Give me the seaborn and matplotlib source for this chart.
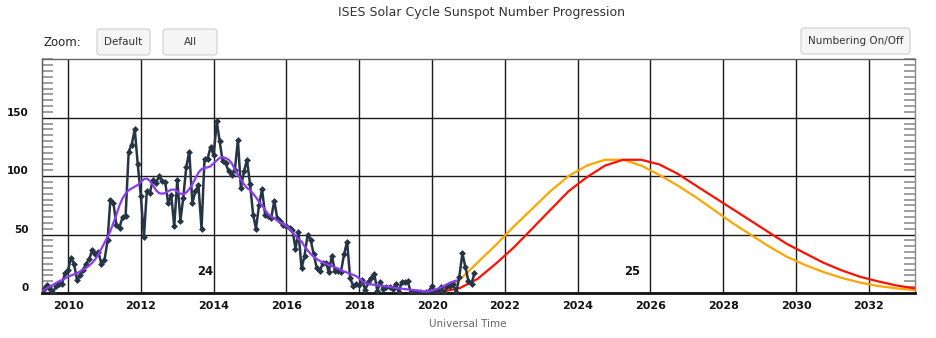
import numpy as np
import pandas as pd
import matplotlib
matplotlib.use("Agg")
import matplotlib.pyplot as plt
import matplotlib.dates as mdates
from matplotlib.patches import FancyBboxPatch
from matplotlib.transforms import IdentityTransform
from matplotlib.ticker import MultipleLocator
import seaborn as sns

# ---------------- data ----------------
monthly_start = "2009-05-01"
monthly_ssn = [
    3.6, 7, 3, 0, 6, 8, 8, 17,
    20, 30, 25, 11, 15, 20, 25, 29, 37, 33, 35, 25,
    28, 45, 80, 77, 58, 56, 65, 66, 121, 127, 140, 110,
    83, 48, 87, 86, 97, 94, 100, 96, 95, 77, 84, 57,
    97, 62, 81, 108, 121, 77, 87, 92, 55, 115, 115, 125,
    118, 147, 130, 113, 111, 104, 101, 105, 131, 90, 104, 114,
    93, 67, 55, 75, 89, 67, 66, 64, 79, 64, 62, 58,
    57, 56, 54, 38, 52, 21, 32, 50, 45, 33, 21, 18.5,
    26, 26, 18, 32, 19, 19, 18, 33, 44, 13, 6, 8,
    7, 11, 2.5, 9, 13, 16, 2, 9, 3, 5, 5, 3,
    8, 1, 9, 9, 10, 1, 1, 0.5, 1, 0.4, 0.5, 1.5,
    6, 0.2, 1.5, 5, 0.2, 6, 6, 7.5, 0.6, 14, 34, 22,
    10, 8, 17,
]
smoothed_start = "2009-05-01"
smoothed_ssn = [
    2.5, 4, 5.5, 7, 8.5, 10, 11, 12.5,
    14, 15, 16, 17, 18.5, 20, 21.5, 23.5, 26, 29, 33, 38,
    43, 48, 53, 60, 67, 75, 81, 85, 88, 89.5, 91, 92.5,
    95, 97.5, 98, 96, 92, 88, 85.5, 85, 85.5, 87, 88.5, 88.5,
    87, 85, 84.5, 86, 89, 93, 98, 103, 106, 107, 107.5, 108.5,
    111, 113.5, 115.5, 116.3, 115.5, 114, 111, 106, 101, 97, 93, 90,
    88, 85, 82, 78, 75, 71, 67.5, 65.5, 64, 62, 60.5, 59,
    57.5, 55, 52, 49, 46, 44, 40, 36.5, 33.5, 31, 29, 27.5,
    26, 25, 24, 23, 22, 21, 19.5, 18.5, 17.5, 16.5, 15.5, 14.5,
    12.5, 10, 8.5, 7.8, 7.3, 7, 6.5, 6.2, 6, 5.7, 5.3, 4.8,
    4.4, 4, 3.7, 3.4, 3.1, 2.8, 2.5, 2.2, 1.8, 1.5, 1.4, 1.6,
    2.2, 3, 3.8, 4.8, 6, 7.5, 8.8, 9.8, 10.7,
]
pred_orange_start = "2019-10-01"
pred_orange = [
    0.3, 3, 11, 26, 41, 57, 72, 87, 100, 109, 114, 114, 109, 101,
    92, 82, 71, 60, 50, 40, 31, 24, 18, 13, 9, 6, 4, 2.5,
]
pred_red_start = "2020-04-01"
pred_red = [
    1, 4, 12, 25, 39, 55, 71, 87, 99, 109, 114, 114, 110, 102,
    92, 82, 72, 62, 52, 42, 34, 26, 19.5, 14, 10, 6.5, 4,
]
cycle_labels = ["24", "25"]
x_tick_years = list(range(2010, 2033, 2))
y_ticks = [0, 50, 100, 150]

# ---------------- frames ----------------
df_m = pd.DataFrame({"date": pd.date_range(monthly_start, periods=len(monthly_ssn), freq="MS"),
                     "ssn": monthly_ssn})
df_s = pd.DataFrame({"date": pd.date_range(smoothed_start, periods=len(smoothed_ssn), freq="MS"),
                     "ssn": smoothed_ssn})
df_o = pd.DataFrame({"date": pd.date_range(pred_orange_start, periods=len(pred_orange), freq="6MS"),
                     "ssn": pred_orange})
df_r = pd.DataFrame({"date": pd.date_range(pred_red_start, periods=len(pred_red), freq="6MS"),
                     "ssn": pred_red})

sns.set_style("white")
plt.rcParams["font.family"] = ["DejaVu Sans"]

W, H = 936, 338
fig = plt.figure(figsize=(W / 100, H / 100), dpi=100)
L, R, T, B = 41.7, 915.0, 59.3, 293.0
ax = fig.add_axes([L / W, 1 - B / H, (R - L) / W, (B - T) / H])

sns.lineplot(data=df_o, x="date", y="ssn", ax=ax, color="#FFA500", lw=1.6, zorder=3)
sns.lineplot(data=df_r, x="date", y="ssn", ax=ax, color="#FF1100", lw=1.6, zorder=3)
sns.lineplot(data=df_m, x="date", y="ssn", ax=ax, color="#263545", lw=1.8,
             marker="D", markersize=3.5, markeredgewidth=0, zorder=4)
sns.lineplot(data=df_s, x="date", y="ssn", ax=ax, color="#8A3CF5", lw=1.6, zorder=5)

ax.set_xlim(pd.Timestamp("2009-04-11"), pd.Timestamp("2033-04-09"))
ax.set_ylim(0, 200)

# ticks
ax.set_xticks([pd.Timestamp(f"{y}-01-01") for y in x_tick_years])
ax.set_xticklabels([str(y) for y in x_tick_years])
ax.xaxis.set_minor_locator(mdates.MonthLocator(bymonth=[1, 7]))
ax.set_yticks(y_ticks)
ax.set_yticklabels([str(v) for v in y_ticks])
ax.yaxis.set_minor_locator(MultipleLocator(5))

ax.tick_params(axis="x", which="major", length=0, pad=5.5, labelsize=8)
ax.tick_params(axis="y", which="major", length=0, pad=9.1, labelsize=7.5)
ax.tick_params(axis="x", which="minor", direction="in", length=5, width=1, color="#9a9a9a", top=False)
ax.tick_params(axis="y", which="minor", direction="in", length=8, width=1.2, color="#8f8f8f",
               left=True, right=True)
for lab in ax.get_xticklabels() + ax.get_yticklabels():
    lab.set_fontweight("bold")
    lab.set_color("#111111")
for lab in ax.get_yticklabels():
    lab.set_va("bottom")

ax.grid(True, which="major", color="#1a1a1a", lw=1.0)
ax.set_axisbelow(True)
ax.set_xlabel("")
ax.set_ylabel("")

for side, col, lw in [("bottom", "#111111", 2.0), ("left", "#555555", 1.0),
                      ("top", "#666666", 1.0), ("right", "#888888", 1.0)]:
    ax.spines[side].set_visible(True)
    ax.spines[side].set_color(col)
    ax.spines[side].set_linewidth(lw)

# cycle labels
ax.text(pd.Timestamp("2013-10-03"), 18, cycle_labels[0], ha="center", va="center",
        fontsize=8.3, fontweight="bold", color="#111111")
ax.text(pd.Timestamp("2025-06-28"), 18, cycle_labels[1], ha="center", va="center",
        fontsize=8.3, fontweight="bold", color="#111111")

# figure texts (pixel coordinates -> figure fraction)
def fx(px):
    return px / W

def fy(py):
    return 1 - py / H

fig.text(fx(482), fy(12.5), "ISES Solar Cycle Sunspot Number Progression", ha="center", va="center",
         fontsize=9, color="#333333")
fig.text(fx(468), fy(324), "Universal Time", ha="center", va="center", fontsize=7.5, color="#666666")
fig.text(fx(44), fy(42.5), "Zoom:", ha="left", va="center", fontsize=8.5, color="#222222")

def button(x0, y0, x1, y1, label):
    p = FancyBboxPatch((x0, H - y1), x1 - x0, y1 - y0,
                       boxstyle="round,pad=0,rounding_size=3",
                       transform=IdentityTransform(), facecolor="#f5f5f5",
                       edgecolor="#cfcfcf", lw=0.8)
    fig.patches.append(p)
    fig.text(fx((x0 + x1) / 2), fy((y0 + y1) / 2), label, ha="center", va="center",
             fontsize=7.5, color="#333333")

button(97, 29, 150, 55, "Default")
button(163, 29, 217, 55, "All")
button(801, 28, 910, 54, "Numbering On/Off")

fig.savefig("out.png", dpi=100)
